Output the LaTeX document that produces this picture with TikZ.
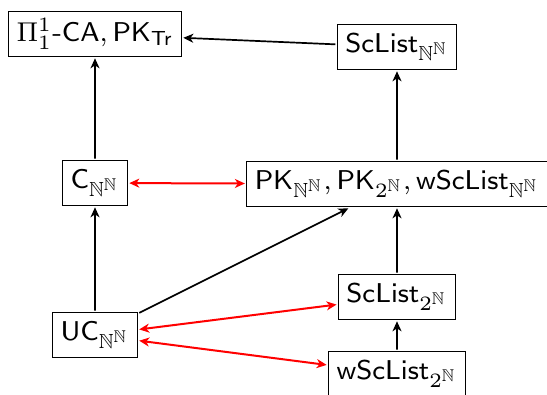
\documentclass[tikz,border=0pt]{standalone}
\usepackage{amsmath,amssymb}
\usetikzlibrary{arrows.meta}
\newcommand{\NN}{\mathbb{N}^{\mathbb{N}}}
\newcommand{\TN}{2^{\mathbb{N}}}
\begin{document}
\begin{tikzpicture}[x=1pt,y=-1pt,
  box/.style={draw, line width=1pt, font=\sffamily\fontsize{8}{10}\selectfont,
    scale=3.4, transform shape,
    minimum height=13.3pt, inner xsep=2.4pt, inner ysep=0.8pt},
  tip/.tip={Stealth[length=10pt,width=9pt,inset=3pt]},
  imp/.style={-tip, line width=1.7pt},
  eqv/.style={tip-tip, line width=2pt, red}]
\useasboundingbox (0,0) rectangle (547,395);
\node[box] (pi) at (95,34) {$\Pi^1_1$-CA$, \mathsf{PK}_{\mathsf{Tr}}$};
\node[box] (sclnn) at (397,47) {$\mathsf{ScList}_{\NN}$};
\node[box] (cnn) at (95,183) {$\mathsf{C}_{\NN}$};
\node[box] (pk) at (397,184) {$\mathsf{PK}_{\NN}, \mathsf{PK}_{\TN}, \mathsf{wScList}_{\NN}$};
\node[box] (scl2) at (397,297) {$\mathsf{ScList}_{\TN}$};
\node[box] (uc) at (95,335) {$\mathsf{UC}_{\NN}$};
\node[box] (wscl2) at (397,374) {$\mathsf{wScList}_{\TN}$};
\draw[imp] (sclnn) -- (pi);
\draw[imp] (cnn) -- (pi);
\draw[imp] (uc) -- (cnn);
\draw[imp] (uc) -- (pk);
\draw[imp] (pk) -- (sclnn);
\draw[imp] (scl2) -- (pk);
\draw[imp] (wscl2) -- (scl2);
\draw[eqv] (cnn) -- (pk);
\draw[eqv] (uc) -- (scl2);
\draw[eqv] (uc) -- (wscl2);
\end{tikzpicture}
\end{document}
